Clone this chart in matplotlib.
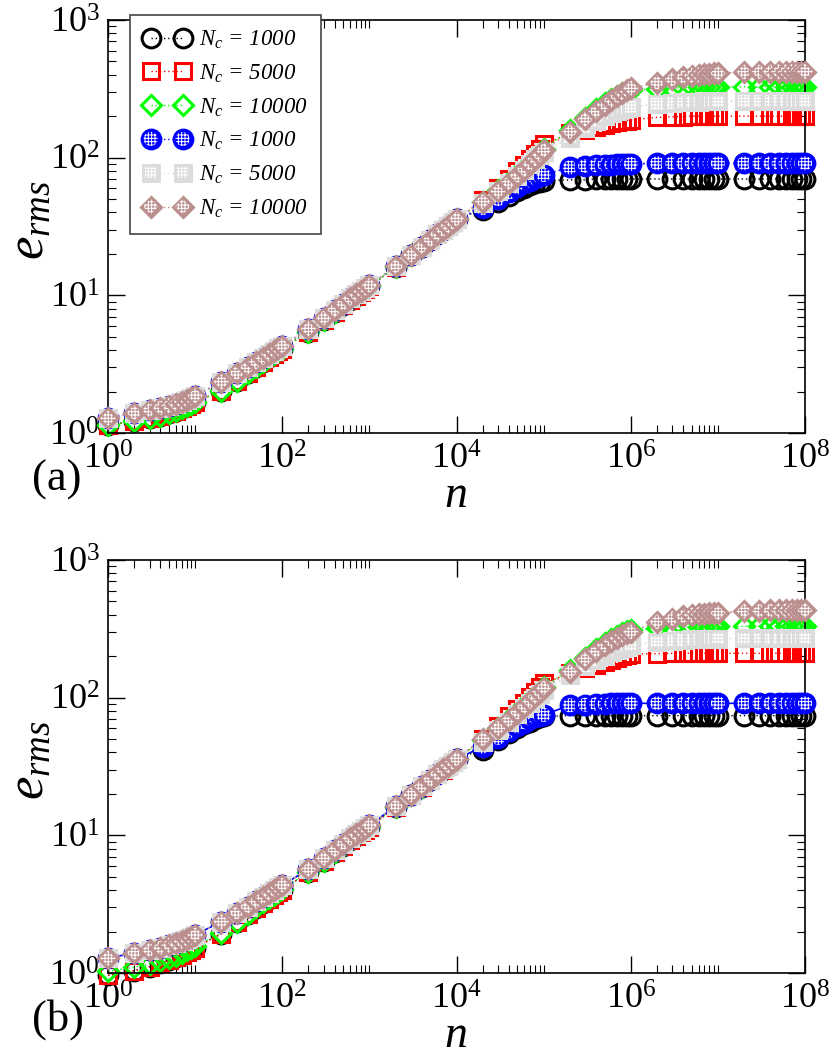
import matplotlib
matplotlib.use('Agg')
import matplotlib.pyplot as plt
from matplotlib.lines import Line2D
from matplotlib.ticker import FixedLocator, LogLocator, NullFormatter

plt.rcParams['font.family'] = ['Liberation Serif', 'DejaVu Serif']
plt.rcParams['mathtext.fontset'] = 'custom'
plt.rcParams['mathtext.rm'] = 'Liberation Serif'
plt.rcParams['mathtext.it'] = 'Liberation Serif:italic'
plt.rcParams['mathtext.bf'] = 'Liberation Serif:bold'
plt.rcParams['hatch.linewidth'] = 0.7

# sampled n values (same for every curve)
n = [1, 2, 3, 4, 5, 6, 7, 8, 9, 10,
     20, 30, 40, 50, 60, 70, 80, 90, 100,
     200, 300, 400, 500, 600, 700, 800, 900, 1e3,
     2e3, 3e3, 4e3, 5e3, 6e3, 7e3, 8e3, 9e3, 1e4,
     2e4, 3e4, 4e4, 5e4, 6e4, 7e4, 8e4, 9e4, 1e5,
     2e5, 3e5, 4e5, 5e5, 6e5, 7e5, 8e5, 9e5, 1e6,
     2e6, 3e6, 4e6, 5e6, 6e6, 7e6, 8e6, 9e6, 1e7,
     2e7, 3e7, 4e7, 5e7, 6e7, 7e7, 8e7, 9e7, 1e8]

labels = [r'$N_c$ = 1000', r'$N_c$ = 5000', r'$N_c$ = 10000',
          r'$N_c$ = 1000', r'$N_c$ = 5000', r'$N_c$ = 10000']

# ---------- panel (a) ----------
# n = 1 ... 1e4, curves lie on top of each other
early_upper_a = [1.28, 1.40, 1.47, 1.53, 1.58, 1.63, 1.69, 1.74, 1.80, 1.86,
                 2.35, 2.72, 3.00, 3.28, 3.52, 3.75, 3.95, 4.12, 4.28,
                 5.70, 6.85, 7.85, 8.70, 9.50, 10.2, 10.8, 11.3, 11.8,
                 16.2, 19.6, 22.6, 25.3, 27.8, 30.0, 32.0, 34.0, 35.8]
early_lower_a = [1.14, 1.22, 1.28, 1.34, 1.40, 1.45, 1.51, 1.57, 1.62, 1.68,
                 2.02, 2.40, 2.74, 3.04, 3.30, 3.54, 3.75, 3.94, 4.10,
                 5.45, 6.60, 7.60, 8.45, 9.25, 9.95, 10.6, 11.1, 11.6,
                 16.0, 19.5, 22.5, 25.2, 27.7, 30.0, 32.0, 34.0, 35.8]
# n = 2e4 ... 1e8
black_a_late = [42, 48, 53, 57, 60, 63, 65, 67, 68,
                69, 69, 70, 70, 70, 70, 70, 70, 70,
                70, 70, 70, 70, 70, 70, 70, 70, 70,
                70, 70, 70, 70, 70, 70, 70, 70, 70]
red_a_late = [49, 60, 70, 80, 89, 98, 107, 116, 125,
              150, 160, 168, 174, 178, 181, 184, 186, 188,
              196, 198, 199, 200, 200, 200, 200, 200, 200,
              200, 200, 200, 200, 200, 200, 200, 200, 200]
green_a_late = [48, 58, 67, 76, 84, 92, 100, 108, 116,
                158, 195, 225, 250, 268, 282, 293, 302, 310,
                316, 320, 322, 324, 325, 326, 326, 327, 327,
                328, 328, 328, 328, 328, 328, 328, 328, 328]
blue_a_late = [43, 50, 56, 61, 65, 68, 71, 73, 75,
               85, 87, 88, 89, 89, 90, 90, 90, 90,
               91, 91, 91, 91, 91, 91, 91, 91, 91,
               91, 91, 91, 91, 91, 91, 91, 91, 91]
gray_a_late = [47, 57, 66, 74, 82, 90, 97, 104, 110,
               140, 165, 185, 200, 210, 218, 225, 230, 234,
               245, 250, 252, 254, 255, 256, 256, 256, 256,
               258, 258, 258, 258, 258, 258, 258, 258, 258]
brown_a_late = [48, 57, 66, 74, 82, 90, 98, 105, 113,
                154, 190, 218, 242, 262, 280, 295, 308, 320,
                350, 370, 385, 395, 400, 404, 407, 409, 410,
                418, 420, 420, 421, 421, 422, 422, 422, 422]

# ---------- panel (b) ----------
early_upper_b = [1.28, 1.40, 1.47, 1.53, 1.59, 1.64, 1.70, 1.76, 1.82, 1.89,
                 2.36, 2.74, 3.04, 3.32, 3.57, 3.80, 4.00, 4.18, 4.35,
                 5.65, 6.80, 7.80, 8.70, 9.50, 10.2, 10.8, 11.3, 11.8,
                 16.3, 19.7, 22.7, 25.4, 27.9, 30.1, 32.1, 34.0, 35.8]
early_lower_b = [1.03, 1.10, 1.16, 1.22, 1.28, 1.34, 1.40, 1.46, 1.51, 1.56,
                 1.96, 2.36, 2.70, 3.00, 3.26, 3.50, 3.70, 3.90, 4.06,
                 5.40, 6.55, 7.55, 8.40, 9.20, 9.90, 10.5, 11.0, 11.5,
                 16.0, 19.5, 22.5, 25.2, 27.7, 30.0, 32.0, 34.0, 35.8]
early_lowest_b = [0.96, 1.04, 1.11, 1.18, 1.24, 1.30, 1.36, 1.42, 1.48, 1.53,
                  1.93, 2.33, 2.67, 2.97, 3.23, 3.47, 3.67, 3.87, 4.03,
                  5.40, 6.55, 7.55, 8.40, 9.20, 9.90, 10.5, 11.0, 11.5,
                  16.0, 19.5, 22.5, 25.2, 27.7, 30.0, 32.0, 34.0, 35.8]
black_b_late = [42, 49, 55, 60, 64, 67, 70, 72, 73,
                74, 74, 74, 74, 74, 74, 74, 74, 74,
                74, 74, 74, 74, 74, 74, 74, 74, 74,
                74, 74, 74, 74, 74, 74, 74, 74, 74]
red_b_late = [50, 62, 73, 83, 92, 101, 110, 119, 127,
              150, 163, 174, 182, 189, 195, 200, 204, 207,
              209, 210, 210, 210, 210, 210, 210, 210, 210,
              210, 210, 210, 210, 210, 210, 210, 210, 210]
green_b_late = [49, 60, 70, 79, 88, 96, 104, 112, 120,
                160, 195, 225, 250, 268, 282, 294, 303, 310,
                318, 322, 325, 326, 327, 328, 328, 329, 329,
                330, 330, 330, 330, 330, 330, 330, 330, 330]
blue_b_late = [44, 51, 57, 62, 66, 70, 72, 74, 75,
               88, 89, 90, 90, 91, 91, 91, 91, 91,
               91, 91, 91, 91, 91, 91, 91, 91, 91,
               91, 91, 91, 91, 91, 91, 91, 91, 91]
gray_b_late = [48, 58, 67, 76, 84, 92, 99, 106, 113,
               147, 170, 188, 202, 213, 222, 229, 235, 240,
               255, 260, 263, 265, 266, 267, 268, 268, 268,
               270, 270, 270, 270, 270, 270, 270, 270, 270]
brown_b_late = [50, 60, 69, 78, 86, 94, 102, 110, 118,
                154, 190, 218, 240, 258, 272, 285, 294, 300,
                355, 375, 390, 398, 403, 407, 410, 411, 412,
                425, 428, 430, 430, 430, 430, 430, 430, 430]

panel_a = [early_lower_a + black_a_late, early_lower_a + red_a_late,
           early_lower_a + green_a_late, early_upper_a + blue_a_late,
           early_upper_a + gray_a_late, early_upper_a + brown_a_late]
panel_b = [early_lowest_b + black_b_late, early_lowest_b + red_b_late,
           early_lower_b + green_b_late, early_upper_b + blue_b_late,
           early_upper_b + gray_b_late, early_upper_b + brown_b_late]

colors = ['black', '#ff0000', '#00ff00', '#0000ff', '#dcdcdc', '#bc8f8f']
markers = ['o', 's', 'D', 'o', 's', 'D']
sizes = [13.5, 11, 10.5, 13.5, 11, 10.5]
filled = [False, False, False, True, True, True]
DOT = (0, (1, 2))
HATCH = '+++++'


def draw_panel(ax, data, blue_solid=False):
    for i, y in enumerate(data):
        z = 2 + 0.2 * i
        c = colors[i]
        ls = '-' if (blue_solid and i == 3) else DOT
        if not filled[i]:
            ax.plot(n, y, ls=DOT, lw=1, color=c, marker=markers[i], ms=sizes[i],
                    mfc='none', mec=c, mew=2.2, zorder=z, clip_on=False)
            continue
        ax.plot(n, y, ls=ls, lw=1.2, color=c, zorder=z, clip_on=False)
        for k in range(len(n)):
            zk = z + 0.001 * (k + 1)
            ax.plot([n[k]], [y[k]], ls='none', marker=markers[i], ms=sizes[i],
                    mfc=c, mec=c, mew=2.2, zorder=zk, clip_on=False)
            ax.scatter([n[k]], [y[k]], s=(sizes[i] * 0.75) ** 2, marker=markers[i],
                       facecolor='none', edgecolor='white', linewidths=0,
                       hatch=HATCH, zorder=zk + 0.0005, clip_on=False)

    ax.set_xscale('log')
    ax.set_yscale('log')
    ax.set_xlim(1, 1e8)
    ax.set_ylim(1, 1e3)
    ax.xaxis.set_major_locator(FixedLocator([1, 1e2, 1e4, 1e6, 1e8]))
    ax.xaxis.set_minor_locator(FixedLocator(
        [k * 10 ** (2 * m) for m in range(4) for k in range(2, 11)]))
    ax.xaxis.set_minor_formatter(NullFormatter())
    ax.yaxis.set_major_locator(LogLocator(base=10, numticks=10))
    ax.yaxis.set_minor_locator(LogLocator(base=10, subs=range(2, 10), numticks=20))
    ax.yaxis.set_minor_formatter(NullFormatter())
    ax.tick_params(which='both', direction='in', top=True, right=True)
    ax.tick_params(which='major', length=12, width=1.0, labelsize=26)
    ax.tick_params(which='minor', length=6, width=0.8)
    ax.tick_params(axis='x', which='major', pad=8)
    ax.tick_params(axis='y', which='major', pad=6)
    for sp in ax.spines.values():
        sp.set_linewidth(1.2)


fig = plt.figure(figsize=(8.3, 10.57), dpi=100)
W, H = 830, 1057
ax_a = fig.add_axes([108 / W, 1 - 433 / H, 697 / W, 413 / H])
ax_b = fig.add_axes([108 / W, 1 - 973 / H, 697 / W, 413 / H])

draw_panel(ax_a, panel_a)
draw_panel(ax_b, panel_b, blue_solid=True)

# legend of panel (a)
handles = []
for i in range(6):
    ln = Line2D([], [], ls=DOT, lw=1, color=colors[i], marker=markers[i], ms=sizes[i],
                mfc=(colors[i] if filled[i] else 'none'), mec=colors[i], mew=2.2)
    if filled[i]:
        sc = ax_a.scatter([], [], s=(sizes[i] * 0.75) ** 2, marker=markers[i],
                          facecolor='none', edgecolor='white', linewidths=0, hatch=HATCH)
        handles.append((ln, sc))
    else:
        handles.append(ln)
leg = ax_a.legend(handles, labels, loc='upper left',
                  bbox_to_anchor=(130 / W, 1 - 15 / H), bbox_transform=fig.transFigure,
                  borderaxespad=0, numpoints=2, scatterpoints=2, scatteryoffsets=[0.5],
                  handlelength=2.0, handletextpad=0.4, borderpad=0.6,
                  labelspacing=0.5, prop={'style': 'italic', 'size': 16.5},
                  fancybox=False, framealpha=1, edgecolor='#444444')
leg.get_frame().set_linewidth(1.2)
leg.set_zorder(10)

# axis labels and panel tags
for top in (0, 540):
    fig.text(456 / W, 1 - (517 + top) / H, r'$n$', fontsize=33, ha='center', va='bottom')
    fig.text(30 / W, 1 - (220 + top) / H, r'$e_{rms}$', fontsize=38, rotation=90,
             ha='center', va='center')
fig.text(32 / W, 1 - 480 / H, '(a)', fontsize=32, ha='left', va='center')
fig.text(32 / W, 1 - 1020 / H, '(b)', fontsize=32, ha='left', va='center')

fig.savefig('out.png', dpi=100)
